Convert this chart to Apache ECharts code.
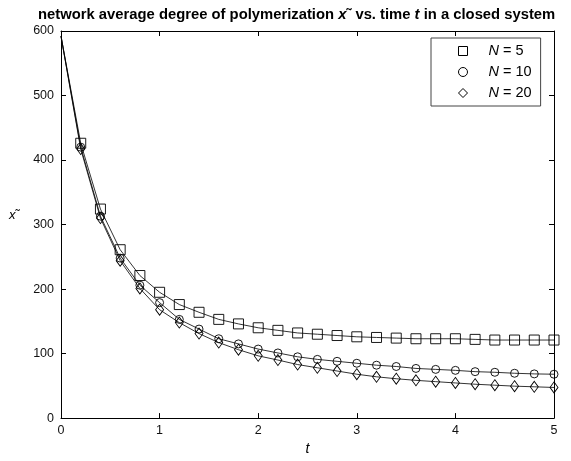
<!DOCTYPE html>
<html>
<head>
<meta charset="utf-8">
<script src="https://cdn.jsdelivr.net/npm/echarts@6/dist/echarts.min.js"></script>
<style>
  html, body { margin: 0; padding: 0; background: #fff; }
  #chart { width: 571px; height: 461px; }
</style>
</head>
<body>
<div id="chart"></div>
<script>
// time samples (markers every 0.2, none drawn at t = 0)
const times = [0, 0.2, 0.4, 0.6, 0.8, 1.0, 1.2, 1.4, 1.6, 1.8, 2.0, 2.2, 2.4, 2.6, 2.8,
  3.0, 3.2, 3.4, 3.6, 3.8, 4.0, 4.2, 4.4, 4.6, 4.8, 5.0];

const n5Values = [592, 426, 324, 261, 221, 195, 176, 164, 153, 146, 140, 136, 132, 130, 128,
  126, 125, 124, 123, 123, 123, 122, 121, 121, 121, 121];
const n10Values = [592, 420, 313, 248, 206, 179, 153, 138, 123, 115, 107, 101, 95, 91, 88,
  85, 82, 80, 77, 75.5, 74, 72, 71, 69.5, 68.5, 68];
const n20Values = [592, 417, 310, 244, 201, 168, 148, 131, 117, 106, 96.5, 90, 83, 78, 73,
  68, 64, 61, 58.5, 56.5, 54.5, 52.5, 51, 49.5, 48.5, 47.5];

const seriesNames = ['N = 5', 'N = 10', 'N = 20'];
const xTicks = [0, 1, 2, 3, 4, 5];
const yTicks = [0, 100, 200, 300, 400, 500, 600];

const FONT = 'Liberation Sans, Arial, sans-serif';

const toData = vals => times.map((t, i) =>
  i === 0 ? { value: [t, vals[i]], symbol: 'none' } : [t, vals[i]]);

const markerStyle = { color: 'rgba(0,0,0,0)', borderColor: '#000', borderWidth: 0.9 };

const makeSeries = (name, vals, symbol, size) => ({
  name: name,
  type: 'line',
  data: toData(vals),
  symbol: symbol,
  symbolSize: size,
  showAllSymbol: true,
  itemStyle: markerStyle,
  lineStyle: { color: '#000', width: 0.8 },
  emphasis: { disabled: true },
  z: 3
});

const chart = echarts.init(document.getElementById('chart'));

const axisCommon = {
  type: 'value',
  axisLine: { show: true, onZero: false, lineStyle: { color: '#000', width: 1 } },
  axisTick: { show: true, inside: true, length: 5, lineStyle: { color: '#000' } },
  splitLine: { show: false }
};

const legendIcon = { color: 'rgba(0,0,0,0)', borderColor: '#000', borderWidth: 1 };

chart.setOption({
  animation: false,
  backgroundColor: '#fff',
  title: {
    text: '{b|network average degree of polymerization }{bi|x}{b|˜ vs. time }{bi|t}{b| in a closed system}',
    left: 38,
    top: 7,
    padding: 0,
    textStyle: {
      rich: {
        b: { fontFamily: FONT, fontSize: 14.8, fontWeight: 'bold', color: '#000' },
        bi: { fontFamily: FONT, fontSize: 14.8, fontWeight: 'bold', fontStyle: 'italic', color: '#000' }
      }
    }
  },
  grid: { left: 61, right: 17, top: 31, bottom: 41, containLabel: false },
  legend: {
    orient: 'vertical',
    left: 431,
    top: 38,
    padding: [5, 9, 5, 27],
    itemGap: 5,
    itemWidth: 9,
    itemHeight: 9,
    backgroundColor: '#fff',
    borderColor: '#444',
    borderWidth: 1,
    borderRadius: 0,
    selectedMode: false,
    data: [
      { name: seriesNames[0], icon: 'rect', itemStyle: legendIcon },
      { name: seriesNames[1], icon: 'circle', itemStyle: legendIcon },
      { name: seriesNames[2], icon: 'diamond', itemStyle: legendIcon }
    ],
    formatter: name => '{g|}{i|N}{n|' + name.slice(1) + '}',
    textStyle: {
      lineHeight: 16,
      rich: {
        g: { width: 16 },
        i: { fontFamily: FONT, fontSize: 14.5, fontStyle: 'italic', color: '#000' },
        n: { fontFamily: FONT, fontSize: 14.5, color: '#000' }
      }
    }
  },
  xAxis: [
    Object.assign({}, axisCommon, {
      position: 'bottom',
      min: xTicks[0],
      max: xTicks[xTicks.length - 1],
      interval: 1,
      name: 't',
      nameLocation: 'middle',
      nameGap: 23,
      nameTextStyle: { fontFamily: FONT, fontSize: 14, fontStyle: 'italic', color: '#000' },
      axisLabel: { margin: 6, fontFamily: FONT, fontSize: 12.5, color: '#111' }
    }),
    Object.assign({}, axisCommon, {
      position: 'top',
      min: xTicks[0],
      max: xTicks[xTicks.length - 1],
      interval: 1,
      axisLabel: { show: false }
    })
  ],
  yAxis: [
    Object.assign({}, axisCommon, {
      position: 'left',
      min: yTicks[0],
      max: yTicks[yTicks.length - 1],
      interval: 100,
      axisLabel: { margin: 7, fontFamily: FONT, fontSize: 12.5, color: '#111' }
    }),
    Object.assign({}, axisCommon, {
      position: 'right',
      min: yTicks[0],
      max: yTicks[yTicks.length - 1],
      interval: 100,
      axisLabel: { show: false }
    })
  ],
  graphic: [
    {
      type: 'text',
      left: 9,
      top: 209,
      style: {
        text: '{i|x}{n|˜}',
        rich: {
          i: { fontFamily: FONT, fontSize: 13, fontStyle: 'italic', fill: '#000' },
          n: { fontFamily: FONT, fontSize: 13, fill: '#000' }
        }
      }
    }
  ],
  series: [
    makeSeries(seriesNames[0], n5Values, 'rect', 10),
    makeSeries(seriesNames[1], n10Values, 'circle', 8),
    makeSeries(seriesNames[2], n20Values, 'diamond', [8, 11])
  ]
});
</script>
</body>
</html>
